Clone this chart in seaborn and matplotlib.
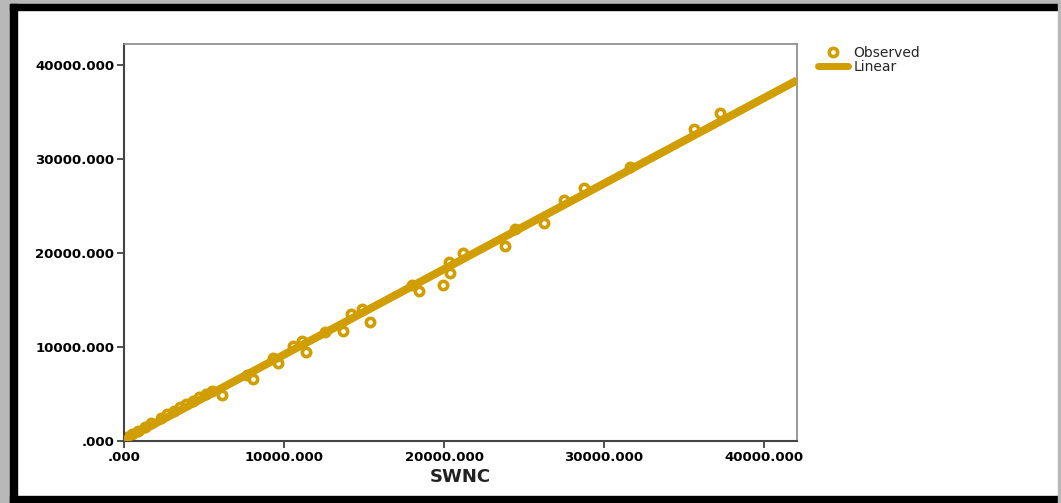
import matplotlib
matplotlib.use('Agg')
import matplotlib.pyplot as plt
from matplotlib.lines import Line2D
from matplotlib.patches import Rectangle
from matplotlib.ticker import FuncFormatter
import numpy as np
import pandas as pd
import seaborn as sb

# values (SWNC vs observed)
swnc = [200, 500, 900, 1300, 1700, 2300, 2700, 3100, 3500, 3900, 4300, 4700, 5100, 5500,
        6106, 7667, 8083, 9292, 9646, 10583, 11106, 11375, 12563, 13667, 14188, 14856,
        15375, 17979, 18458, 19917, 20333, 20375, 21208, 23813, 24438, 26271, 27521,
        28771, 31625, 35625, 37250]
observed = [400, 700, 1100, 1500, 1900, 2450, 2850, 3200, 3600, 3950, 4300, 4650, 5000, 5350,
            4894, 7021, 6560, 8798, 8266, 10106, 10638, 9436, 11631, 11734, 13475, 14010,
            12691, 16596, 15993, 16596, 19010, 17908, 19965, 20745, 22550, 23227, 25638,
            26950, 29160, 33191, 34862]
x_ticks = [0, 10000, 20000, 30000, 40000]
y_ticks = [0, 10000, 20000, 30000, 40000]
legend_labels = ['Observed', 'Linear']

gold = '#d09e00'
df = pd.DataFrame({'SWNC': swnc, 'Observed': observed})

sb.set_style('white')
plt.rcParams['font.family'] = ['DejaVu Sans']

fig = plt.figure(figsize=(10.61, 5.03), dpi=100)
fig.patch.set_facecolor('white')
W, H = 1061, 503

# outer screenshot frame
fig.patches.append(Rectangle((0, 0), 10 / W, 1, transform=fig.transFigure, color='#b8b8b8', zorder=0))
fig.patches.append(Rectangle((0, 1 - 4 / H), 1, 4 / H, transform=fig.transFigure, color='#b8b8b8', zorder=0))
fig.patches.append(Rectangle((10 / W, 0), 7 / W, 1 - 4 / H, transform=fig.transFigure, color='black', zorder=1))
fig.patches.append(Rectangle((10 / W, 1 - 10 / H), 1, 6 / H, transform=fig.transFigure, color='black', zorder=1))
fig.patches.append(Rectangle((10 / W, 0), 1, 7 / H, transform=fig.transFigure, color='black', zorder=1))
fig.patches.append(Rectangle((1 - 3 / W, 0), 3 / W, 1, transform=fig.transFigure, color='#b8b8b8', zorder=1))

ax = fig.add_axes([124 / W, 1 - 441 / H, (797 - 124) / W, (441 - 44) / H])
ax.set_xlim(0, 42060)
ax.set_ylim(0, 42230)

sb.scatterplot(data=df, x='SWNC', y='Observed', ax=ax, marker='o', s=36,
               facecolor='white', edgecolor=gold, linewidth=2.6, zorder=2)
sb.regplot(data=df, x='SWNC', y='Observed', ax=ax, ci=None, truncate=False, scatter=False,
           line_kws={'color': gold, 'lw': 5.8, 'solid_capstyle': 'butt', 'zorder': 3})
ax.set_xlim(0, 42060)
ax.set_ylim(0, 42230)

fmt = FuncFormatter(lambda v, p: ('%.3f' % v).lstrip('0') if v == 0 else '%.3f' % v)
ax.set_xticks(x_ticks)
ax.set_yticks(y_ticks)
ax.xaxis.set_major_formatter(fmt)
ax.yaxis.set_major_formatter(fmt)
ax.tick_params(axis='both', direction='out', length=5, width=1.2, color='#333333',
               labelsize=9.5, labelcolor='black', pad=2, bottom=True, left=True)
for lab in ax.get_xticklabels() + ax.get_yticklabels():
    lab.set_fontweight('bold')

for side in ['left', 'bottom']:
    ax.spines[side].set_color('#444444')
    ax.spines[side].set_linewidth(1.5)
for side in ['top', 'right']:
    ax.spines[side].set_color('#888888')
    ax.spines[side].set_linewidth(1.2)

ax.set_xlabel('SWNC', fontsize=13, fontweight='bold', color='#222222', labelpad=3)
ax.set_ylabel('')

handles = [Line2D([], [], marker='o', ls='none', color=gold, markerfacecolor='white',
                  markersize=6, markeredgewidth=2.6),
           Line2D([], [], color=gold, lw=5)]
fig.legend(handles, legend_labels, loc='upper left', bbox_to_anchor=(812 / W, 1 - 40 / H),
           frameon=False, fontsize=10, handlelength=2.2, labelspacing=0.05,
           handletextpad=0.4, borderaxespad=0)

fig.savefig('out.png', dpi=100)
